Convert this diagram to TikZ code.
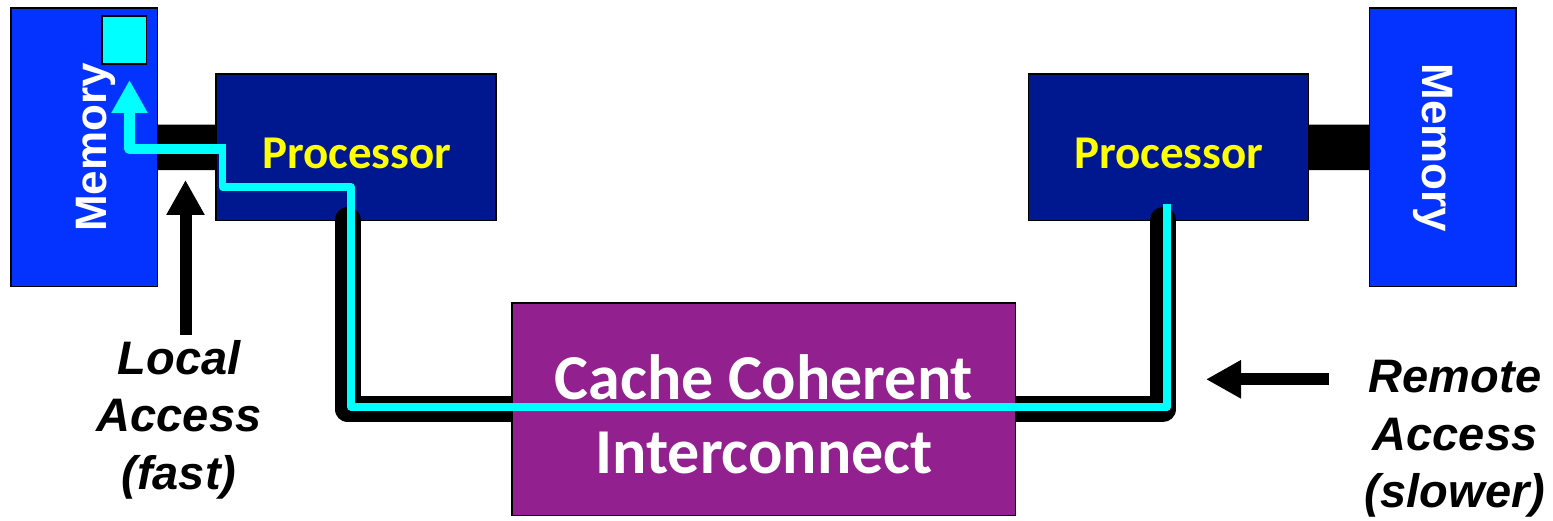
\documentclass[tikz,border=0pt]{standalone}
\usepackage{fontspec}
\usetikzlibrary{arrows.meta}
\newfontfamily\armo{Liberation Sans}
\newfontfamily\calfont{Carlito}
\definecolor{membg}{RGB}{4,51,255}
\definecolor{procbg}{RGB}{0,24,143}
\definecolor{icnbg}{RGB}{146,32,143}
\definecolor{cyanline}{RGB}{0,255,255}
\definecolor{proctxt}{RGB}{255,255,0}
\pgfdeclarelayer{front}
\pgfdeclarelayer{top}
\pgfsetlayers{main,front,top}
\begin{document}
\begin{tikzpicture}[x=1pt,y=-1pt,
  box/.style={draw=black, line width=1.2pt, inner sep=0pt, outer sep=0pt},
  membox/.style={box, fill=membg, minimum width=146.5pt, minimum height=278.7pt},
  procbox/.style={box, fill=procbg, minimum width=280pt, minimum height=146.7pt},
  memlabel/.style={text=white, font=\armo\bfseries\fontsize{44}{50}\selectfont, inner sep=0pt, anchor=base},
  proclabel/.style={text=proctxt, font=\calfont\bfseries\fontsize{47}{56}\selectfont, inner sep=0pt, anchor=base},
  link/.style={line width=45.5pt},
  bus/.style={line width=26pt, line cap=round, line join=round},
  route/.style={draw=cyanline, line width=7.5pt, line join=round},
  pointer/.style={line width=12pt, -{Triangle[length=35pt,width=36pt]}},
  note/.style={font=\armo\bfseries\itshape\fontsize{47}{57.5}\selectfont, align=center, inner sep=0pt, anchor=north}
]
% canvas
\fill[white] (0,0) rectangle (1553,521);
\useasboundingbox (0,0) rectangle (1553,521);

% memories and processors
\node[membox] (memL) at (84.2,147.4) {};
\node[membox, minimum width=146.7pt] (memR) at (1442.7,147.4) {};
\node[procbox] (procL) at (356,147.3) {};
\node[procbox] (procR) at (1168.7,147.3) {};

% memory-processor links
\draw[link] (memL.east) -- (procL.west);
\draw[link] (procR.east) -- (memR.west);

% cached line inside the local memory
\node[box, fill=cyanline, minimum width=44.7pt, minimum height=48pt] (cell) at (124.3,40) {};

% interconnect sits above the buses
\begin{pgfonlayer}{front}
\node[box, fill=icnbg, minimum width=503.7pt, minimum height=212.7pt] (icn) at (763.9,409.3) {};
\node[text=white, font=\calfont\bfseries\fontsize{64}{73.4}\selectfont, align=center, inner sep=0pt, anchor=north] (icntxt) at (764,354.5) {Cache Coherent\\Interconnect};
\end{pgfonlayer}

% buses down to the interconnect
\coordinate (busL) at (347.5,220);
\coordinate (busR) at (1163,220);
\draw[bus] (busL) |- (icn.west);
\draw[bus] (busR) |- (icn.east);

% box labels
\node[memlabel, rotate=90] (memLtxt) at (106,147.5) {Memory};
\node[memlabel, rotate=-90] (memRtxt) at (1422,148) {Memory};
\node[proclabel] (procLtxt) at (356.7,168.3) {Processor};
\node[proclabel] (procRtxt) at (1168.7,168.3) {Processor};

% remote access route
\coordinate (hitL) at (222.5,144);
\coordinate (viaL) at (351,187);
\coordinate (viaR) at (1167,407);
\coordinate (srcR) at (1167,204);
\coordinate (memtap) at (226.25,149);
\coordinate (celltip) at (129.5,80);
\begin{pgfonlayer}{top}
\draw[route] (hitL) |- (viaL) |- (viaR) -- (srcR);
\draw[draw=cyanline, line width=10.5pt, line join=round, -{Triangle[length=33pt,width=34pt]}] (memtap) -| (celltip);
\end{pgfonlayer}

% access labels
\coordinate (localtail) at (185.5,335);
\coordinate (localtip) at (185.5,180);
\coordinate (remotetail) at (1329.3,379.3);
\coordinate (remotetip) at (1206,379.3);
\draw[pointer] (localtail) -- (localtip);
\draw[pointer] (remotetail) -- (remotetip);
\node[note] (localtxt) at (179,340) {Local\\Access\\(fast)};
\node[note] (remotetxt) at (1455,360) {Remote\\Access\\(slower)};
\end{tikzpicture}
\end{document}
